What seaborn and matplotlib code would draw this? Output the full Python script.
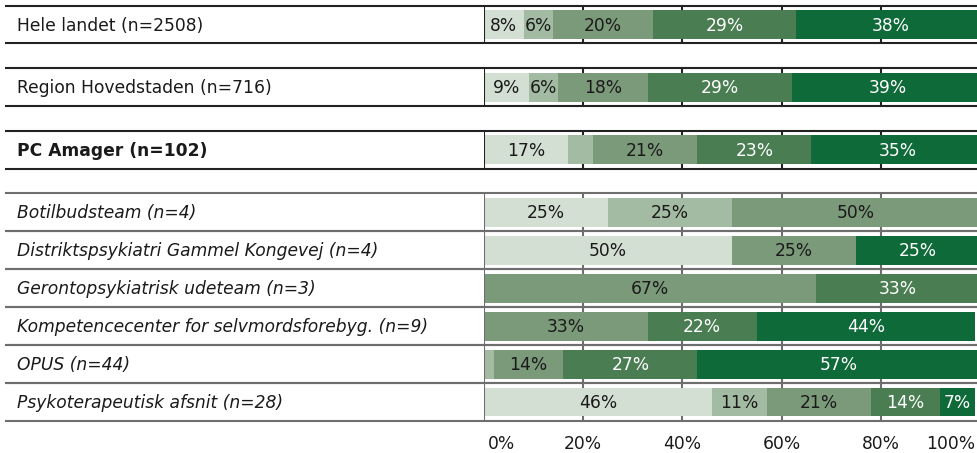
import matplotlib
matplotlib.use("Agg")
import matplotlib.pyplot as plt
import matplotlib.transforms as mtransforms
import numpy as np
import pandas as pd
import seaborn as sns

# --- data -------------------------------------------------------------
row_labels = [
    "Hele landet (n=2508)",
    "Region Hovedstaden (n=716)",
    "PC Amager (n=102)",
    "Botilbudsteam (n=4)",
    "Distriktspsykiatri Gammel Kongevej (n=4)",
    "Gerontopsykiatrisk udeteam (n=3)",
    "Kompetencecenter for selvmordsforebyg. (n=9)",
    "OPUS (n=44)",
    "Psykoterapeutisk afsnit (n=28)",
]
cat_1 = [8, 9, 17, 25, 50, 0, 0, 0, 46]
cat_2 = [6, 6, 5, 25, 0, 0, 0, 2, 11]
cat_3 = [20, 18, 21, 50, 25, 67, 33, 14, 21]
cat_4 = [29, 29, 23, 0, 0, 33, 22, 27, 14]
cat_5 = [38, 39, 35, 0, 25, 0, 44, 57, 7]
tick_values = [0, 20, 40, 60, 80, 100]
tick_labels = ["0%", "20%", "40%", "60%", "80%", "100%"]

categories = ["c1", "c2", "c3", "c4", "c5"]
colors = ["#d3dfd2", "#a3bba2", "#7b9a7a", "#4a7d52", "#0e6a39"]
text_colors = ["#1a1a1a", "#1a1a1a", "#1a1a1a", "white", "white"]

# vertical layout: three summary rows separated by gaps, then the unit rows
row_pos = [0.0, 1.65, 3.3] + [4.95 + i for i in range(6)]
row_style = ["normal", "normal", "bold"] + ["italic"] * 6
line_color = ["#222222"] * 3 + ["#6e6e6e"] * 6

values = np.array([cat_1, cat_2, cat_3, cat_4, cat_5], dtype=float)
cum = np.cumsum(values, axis=0)

records = []
for k, cat in enumerate(categories):
    for r, pos in enumerate(row_pos):
        records.append({"cat": cat, "pos": pos, "cum": cum[k, r]})
df = pd.DataFrame(records)

# --- figure -----------------------------------------------------------
sns.set_theme(style="white")
plt.rcParams["font.family"] = ["DejaVu Sans"]
FS = 12.3

W, H = 978, 453
fig = plt.figure(figsize=(W / 100, H / 100), dpi=100)
ax_left, ax_right = 484 / W, 980 / W
ax_top, ax_bottom = 1 - 5.5 / H, 1 - 421 / H
ax = fig.add_axes([ax_left, ax_bottom, ax_right - ax_left, ax_top - ax_bottom])

# stacked bars: cumulative totals drawn from the outermost segment inwards
sns.barplot(
    data=df, x="cum", y="pos", hue="cat",
    hue_order=categories[::-1],
    palette=dict(zip(categories, colors)), saturation=1,
    dodge=False, native_scale=True, orient="h",
    width=0.76, errorbar=None, legend=False, linewidth=0,
    ax=ax, zorder=3,
)

ax.set_xlim(0, 100)
ax.set_ylim(row_pos[-1] + 0.5, row_pos[0] - 0.5)

# row frames, gridline stubs and left axis per row
trans = mtransforms.blended_transform_factory(fig.transFigure, ax.transData)
for r, pos in enumerate(row_pos):
    lc = line_color[r]
    for y in (pos - 0.5, pos + 0.5):
        ax.plot([5 / W, 1.0], [y, y], transform=trans, color=lc, lw=1.5,
                clip_on=False, zorder=5, solid_capstyle="butt")
    ax.vlines([20, 40, 60, 80], pos - 0.5, pos + 0.5, color=lc, lw=1.5, zorder=1)
    ax.vlines(0, pos - 0.5, pos + 0.5, color=lc, lw=1.5, zorder=5)
    ax.text(17 / W, pos + 0.03, row_labels[r], transform=trans, ha="left", va="center",
            fontsize=FS, color="#1a1a1a",
            fontweight="bold" if row_style[r] == "bold" else "normal",
            fontstyle="italic" if row_style[r] == "italic" else "normal")

# segment labels
for k in range(len(categories)):
    for r, pos in enumerate(row_pos):
        v = values[k, r]
        if v >= 6:
            center = cum[k, r] - v / 2
            ax.text(center, pos + 0.03, f"{int(v)}%", ha="center", va="center",
                    fontsize=FS, color=text_colors[k], zorder=6)

ax.set_xticks(tick_values)
ax.set_xticklabels(tick_labels, fontsize=FS, color="#1a1a1a")
ax.tick_params(axis="x", length=0, pad=10)
labels = ax.get_xticklabels()
labels[0].set_horizontalalignment("left")
labels[0].set_transform(labels[0].get_transform()
                        + mtransforms.ScaledTranslation(0.04, 0, fig.dpi_scale_trans))
labels[-1].set_horizontalalignment("right")
labels[-1].set_transform(labels[-1].get_transform()
                         + mtransforms.ScaledTranslation(-0.05, 0, fig.dpi_scale_trans))
ax.set_yticks([])
ax.set_ylabel("")
ax.set_xlabel("")
for s in ax.spines.values():
    s.set_visible(False)

fig.savefig("out.png", dpi=100)
